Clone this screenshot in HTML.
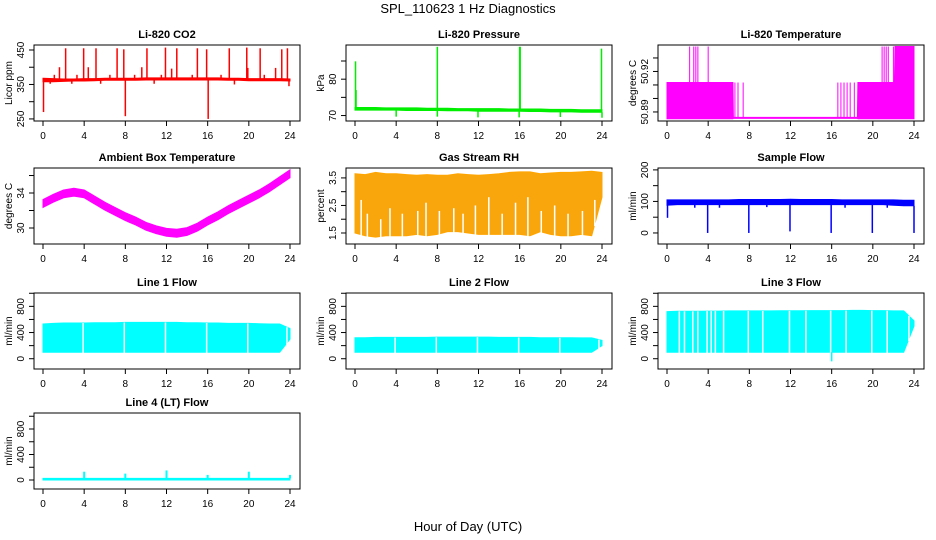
<!DOCTYPE html>
<html><head><meta charset="utf-8"><style>
html,body{margin:0;padding:0;background:#fff}
svg{display:block;font-family:"Liberation Sans",sans-serif}
</style></head><body>
<svg id="c" width="936" height="540" viewBox="0 0 936 540">
<text x="468" y="13" text-anchor="middle" font-size="13">SPL_110623  1 Hz Diagnostics</text>
<text x="468" y="531" text-anchor="middle" font-size="13">Hour of Day (UTC)</text>
</svg>
<script>
// ---- data ----
const xTicks = [0,4,8,12,16,20,24];
const hours = [0,1,2,3,4,5,6,7,8,9,10,11,12,13,14,15,16,17,18,19,20,21,22,23,24];

const co2Hi = [368,367,366,366,367,367,368,368,368,368,369,369,369,369,369,369,369,369,368,368,367,367,367,367,366];
const co2Lo = [358,358,359,360,360,361,362,362,362,362,363,363,363,363,363,363,363,363,362,362,361,361,361,361,360];
const co2Spikes = [[2.2,455],[3.95,455],[5.15,455],[7.2,455],[7.85,452],[10.1,455],[11.9,457],[13.0,455],[15.0,455],[15.9,452],[18.1,455],[19.8,457],[21.1,455],[23.2,452],[23.75,455],
 [1.6,400],[4.4,400],[9.6,400],[12.5,396],[19.9,398],[22.6,398],[1.1,378],[3.3,378],[6.5,378],[8.9,378],[11.5,378],[14.5,378],[17.3,378],[21.5,378],
 [0.05,270],[8.0,258],[16.05,250],[0.7,352],[2.8,352],[5.6,352],[10.8,352],[18.6,350],[23.9,345]];

const presHi = [72.2,72.2,72.2,72.1,72.1,72.1,72.1,72.0,72.0,72.0,71.9,71.9,71.9,71.9,71.9,71.8,71.8,71.8,71.8,71.7,71.7,71.7,71.6,71.6,71.6];
const presLo = [71.5,71.5,71.5,71.5,71.5,71.4,71.4,71.4,71.4,71.3,71.3,71.3,71.2,71.2,71.2,71.2,71.2,71.1,71.1,71.0,71.0,71.0,70.9,70.9,70.9];
const presSpikes = [[0.05,84.9],[0.1,77],[8.0,88.9],[16.0,88.9],[16.05,88.9],[23.95,88.4],[4.0,69.7],[8.0,69.7],[11.95,69.5],[15.95,69.5],[19.95,69.6],[24.0,69.4]];

const tempHours = [0,6.4,6.45,16.5,16.55,18.5,18.55,22.1,22.15,24];
const tempHi = [50.9118,50.9118,50.8860,50.8860,50.8860,50.8860,50.9118,50.9118,50.9385,50.9385];
const tempLo = [50.8850,50.8850,50.8852,50.8852,50.8852,50.8852,50.8850,50.8850,50.8850,50.8850];
const tempSpikes = [[2.2,50.9385],[2.6,50.9385],[2.8,50.9385],[3.0,50.9385],[4.0,50.9385],[20.9,50.9385],[21.1,50.9385],[21.3,50.9385],[21.5,50.9385],[22.0,50.9385],
 [6.6,50.9118],[6.9,50.9118],[7.4,50.9118],[16.6,50.9118],[16.9,50.9118],[17.2,50.9118],[17.5,50.9118],[17.8,50.9118],[18.2,50.9118]];

const ambMid = [32.8,33.4,33.9,34.1,33.9,33.2,32.5,31.9,31.3,30.8,30.2,29.8,29.5,29.4,29.6,30.1,30.8,31.4,32.1,32.7,33.3,33.9,34.6,35.4,36.2];
const ambHalf = 0.45;

const rhHi = [3.65,3.62,3.7,3.65,3.65,3.62,3.6,3.62,3.6,3.6,3.65,3.62,3.6,3.62,3.65,3.7,3.72,3.72,3.65,3.68,3.7,3.7,3.72,3.74,3.7];
const rhLo = [1.5,1.4,1.35,1.4,1.4,1.4,1.45,1.4,1.45,1.55,1.55,1.5,1.45,1.45,1.45,1.45,1.45,1.4,1.55,1.45,1.4,1.4,1.45,1.4,2.8];
const rhGaps = [[0.6,2.7],[1.2,2.2],[2.5,2.0],[3.4,2.4],[4.6,2.2],[6.1,2.3],[6.9,2.6],[8.2,2.3],[9.6,2.4],[10.5,2.2],[11.7,2.5],[13.0,2.8],[14.3,2.2],[15.6,2.6],[16.8,2.8],[18.1,2.3],[19.4,2.5],[20.7,2.2],[22.1,2.3],[23.3,2.7]];

const sampHi = [105,105,105,105,105,105,105,106,106,106,106,106,107,106,106,106,106,105,105,105,105,105,105,104,104];
const sampLo = [88,90,90,90,90,90,90,90,90,90,90,90,90,90,90,90,90,90,90,90,90,90,88,86,86];
const sampSpikes = [[0.05,48],[3.95,0],[7.95,0],[11.95,5],[15.95,0],[19.95,0],[24.0,0],[2.7,80],[5.1,80],[9.7,82],[17.3,80],[21.4,80]];

const l1Hi = [530,540,545,545,545,550,550,550,555,555,555,555,555,555,550,550,545,545,540,540,540,535,530,530,460];
const l1Lo = [100,100,100,100,100,100,100,100,100,100,100,100,100,100,100,100,100,100,100,100,100,100,100,100,300];
const l1Gaps = [3.9,7.9,11.9,15.9,19.9,23.7];

const l2Hi = [320,320,325,325,325,325,325,325,330,330,330,330,330,330,325,325,325,325,320,320,320,320,318,318,280];
const l2Lo = [100,100,100,100,100,100,100,100,100,100,100,100,100,100,100,100,100,100,100,100,100,100,100,100,200];
const l2Gaps = [3.9,7.9,11.9,15.9,19.9,23.7];

const l3Hi = [720,725,725,725,728,728,730,730,730,730,730,732,732,732,735,735,735,735,738,738,735,735,730,730,580];
const l3Lo = [100,100,100,100,100,100,100,100,100,100,100,100,100,100,100,100,100,100,100,100,100,100,100,100,500];
const l3Gaps = [1.2,1.7,2.5,3.0,3.9,4.3,4.7,5.5,7.9,9.3,11.9,13.5,15.9,17.4,19.9,21.4,23.5];
const l3Spikes = [[16.0,-40]];

const l4Hi = [25,25,25,25,25,25,25,25,25,25,25,25,25,25,25,25,25,25,25,25,25,25,25,25,25];
const l4Lo = [0,0,0,0,0,0,0,0,0,0,0,0,0,0,0,0,0,0,0,0,0,0,0,0,0];
const l4Spikes = [[4.0,130],[8.0,100],[12.0,150],[16.0,80],[20.0,130],[24.0,80]];

// ---- layout ----
const NS = 'http://www.w3.org/2000/svg';
const svg = document.getElementById('c');
const cols = [{l:34,r:300},{l:346,r:612},{l:658,r:924}];
const rows = [45,168,293,413];
const BH = 76;
function mk(tag, attrs, parent){const e=document.createElementNS(NS,tag);for(const k in attrs)e.setAttribute(k,attrs[k]);(parent||svg).appendChild(e);return e;}
function interp(xs,ys,x){for(let i=0;i<xs.length-1;i++){if(x>=xs[i]&&x<=xs[i+1]){const f=(xs[i+1]-xs[i])?(x-xs[i])/(xs[i+1]-xs[i]):0;return ys[i]+f*(ys[i+1]-ys[i]);}}return ys[ys.length-1];}

function panel(p){
  const c=cols[p.col], top=rows[p.row], bot=top+BH;
  const g=mk('g',{});
  
  
  const x0=c.l+9, x1=c.r-10;
  const X=h=>x0+(h/24)*(x1-x0);
  const Y=v=>bot-(v-p.ylim[0])/(p.ylim[1]-p.ylim[0])*BH;
  const hs=p.hours||hours;
  let pts=[];
  for(let i=0;i<hs.length;i++)pts.push(X(hs[i]).toFixed(1)+','+Y(p.hi[i]).toFixed(1));
  for(let i=hs.length-1;i>=0;i--)pts.push(X(hs[i]).toFixed(1)+','+Y(p.lo[i]).toFixed(1));
  const band=mk('polygon',{points:pts.join(' '),fill:p.fill||p.color,stroke:p.color,'stroke-width':1},g);
  
  
  (p.gaps||[]).forEach(gp=>{
    const h=Array.isArray(gp)?gp[0]:gp, v=Array.isArray(gp)?gp[1]:null;
    const gl=mk('line',{x1:X(h),x2:X(h),y1:Y(v===null?p.hiAt(h):v),y2:Y(p.loAt(h))+2,stroke:'#fff','stroke-width':1.5},g);
    
    
  });
  (p.spikes||[]).forEach(s=>{
    const base=interp(hs,p.hi,s[0]), lo=interp(hs,p.lo,s[0]);
    const from = s[1]>base?base:lo;
    const sl=mk('line',{x1:X(s[0]),x2:X(s[0]),y1:Y(from),y2:Y(s[1]),stroke:p.color,'stroke-width':p.sw||1.5},g);
    
    
  });
  mk('rect',{x:c.l,y:top,width:c.r-c.l,height:BH,fill:'none',stroke:'#000','stroke-width':1},g);
  // x axis ticks on box bottom
  xTicks.forEach(t=>{
    mk('line',{x1:X(t),x2:X(t),y1:bot,y2:bot+5,stroke:'#000'},g);
    const tx=mk('text',{x:X(t),y:bot+18,'text-anchor':'middle','font-size':10},g);tx.textContent=t;
  });
  const ax=c.l;
  p.yt.forEach(t=>{
    mk('line',{x1:ax-5,x2:ax,y1:Y(t),y2:Y(t),stroke:'#000'},g);
  });
  p.yl.forEach(t=>{
    const tx=mk('text',{x:0,y:0,'text-anchor':'middle','font-size':10,transform:`translate(${ax-10},${Y(t)}) rotate(-90)`},g);tx.textContent=t;
  });
  const yt=mk('text',{x:0,y:0,'text-anchor':'middle','font-size':10,transform:`translate(${c.l-22},${(top+bot)/2}) rotate(-90)`},g);yt.textContent=p.ylab;
  const ti=mk('text',{x:(c.l+c.r)/2,y:top-7,'text-anchor':'middle','font-size':11,'font-weight':'bold'},g);ti.textContent=p.title;
}

const flowT=[0,200,400,600,800,1000], flowL=[0,400,800];
const panels=[
 {name:'co2-panel',title:'Li-820 CO2',ylab:'Licor ppm',col:0,row:0,ylim:[244,464.5],yt:[250,300,350,400,450],yl:[250,350,450],hi:co2Hi,lo:co2Lo,spikes:co2Spikes,color:'#ff0000'},
 {name:'pressure-panel',title:'Li-820 Pressure',ylab:'kPa',col:1,row:0,ylim:[68.5,89.4],yt:[70,75,80,85],yl:[70,80],hi:presHi,lo:presLo,spikes:presSpikes,color:'#00ee00',sw:1.5},
 {name:'temperature-panel',title:'Li-820 Temperature',ylab:'degrees C',col:2,row:0,ylim:[50.8833,50.9396],yt:[50.89,50.90,50.91,50.92,50.93],yl:['50.89','50.92'],hours:tempHours,hi:tempHi,lo:tempLo,spikes:tempSpikes,color:'#ff00ff',sw:1},
 {name:'ambient-temp-panel',title:'Ambient Box Temperature',ylab:'degrees C',col:0,row:1,ylim:[28.17,36.86],yt:[30,32,34,36],yl:[30,34],hi:ambMid.map(v=>v+ambHalf),lo:ambMid.map(v=>v-ambHalf),color:'#ff00ff'},
 {name:'rh-panel',title:'Gas Stream RH',ylab:'percent',col:1,row:1,ylim:[1.1,3.86],yt:[1.5,2,2.5,3,3.5],yl:[1.5,2.5,3.5],hi:rhHi,lo:rhLo,color:'#ffa500',fill:'#f9a60c',gaps:rhGaps},
 {name:'sample-flow-panel',title:'Sample Flow',ylab:'ml/min',col:2,row:1,ylim:[-35,206],yt:[0,50,100,150,200],yl:[0,100,200],hi:sampHi,lo:sampLo,spikes:sampSpikes,color:'#0000ff'},
 {name:'line1-flow-panel',title:'Line 1 Flow',ylab:'ml/min',col:0,row:2,ylim:[-157,1004],yt:flowT,yl:flowL,hi:l1Hi,lo:l1Lo,gaps:l1Gaps,color:'#00ffff'},
 {name:'line2-flow-panel',title:'Line 2 Flow',ylab:'ml/min',col:1,row:2,ylim:[-157,1004],yt:flowT,yl:flowL,hi:l2Hi,lo:l2Lo,gaps:l2Gaps,color:'#00ffff'},
 {name:'line3-flow-panel',title:'Line 3 Flow',ylab:'ml/min',col:2,row:2,ylim:[-157,1004],yt:flowT,yl:flowL,hi:l3Hi,lo:l3Lo,gaps:l3Gaps,spikes:l3Spikes,color:'#00ffff'},
 {name:'line4-flow-panel',title:'Line 4 (LT) Flow',ylab:'ml/min',col:0,row:3,ylim:[-141,1051],yt:flowT,yl:flowL,hi:l4Hi,lo:l4Lo,spikes:l4Spikes,color:'#00ffff',sw:2}
];
panels.forEach(p=>{
  const hs=p.hours||hours;
  p.hiAt=h=>interp(hs,p.hi,h);
  p.loAt=h=>interp(hs,p.lo,h);
  panel(p);
});
</script>
</body></html>
